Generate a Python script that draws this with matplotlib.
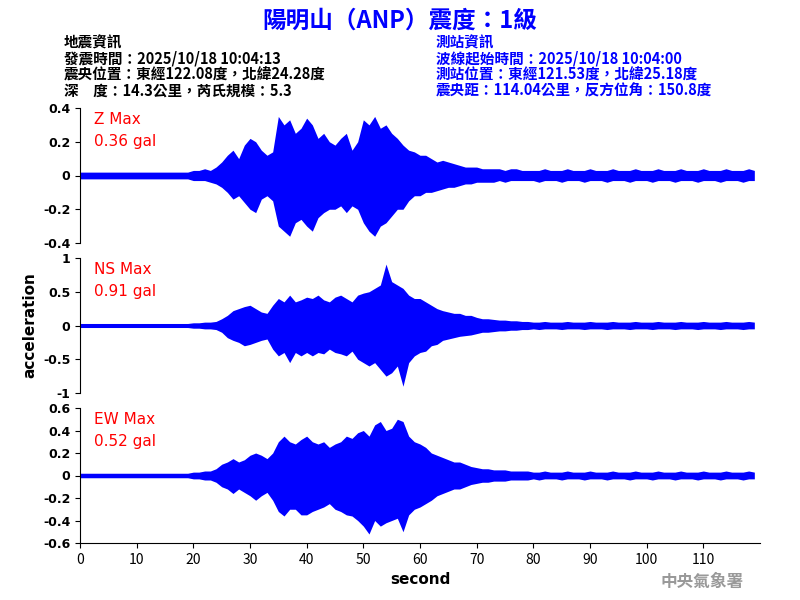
import matplotlib
matplotlib.use("Agg")
import matplotlib.pyplot as plt
import numpy as np

plt.rcParams['font.family'] = ['Noto Sans CJK TC', 'DejaVu Sans']

seconds = np.arange(120)

# per-second envelope (max / min)
z_upper = ([0.02] * 20 + [0.03, 0.03, 0.04, 0.03, 0.05, 0.08, 0.12, 0.15, 0.10, 0.18,
           0.22, 0.20, 0.15, 0.12, 0.14, 0.35, 0.30, 0.33, 0.25, 0.28,
           0.34, 0.30, 0.22, 0.25, 0.20, 0.18, 0.22, 0.25, 0.15, 0.20,
           0.33, 0.30, 0.35, 0.28, 0.30, 0.25, 0.22, 0.18, 0.15, 0.14,
           0.12, 0.12, 0.10, 0.08, 0.09, 0.08, 0.07, 0.06, 0.05, 0.05,
           0.05, 0.04, 0.04, 0.04, 0.04, 0.03, 0.04, 0.04, 0.03, 0.03]
           + [0.03, 0.03, 0.04, 0.03] * 10)
z_lower = ([-0.02] * 20 + [-0.03, -0.03, -0.03, -0.04, -0.05, -0.07, -0.10, -0.14, -0.12, -0.16,
           -0.20, -0.22, -0.14, -0.12, -0.15, -0.30, -0.33, -0.36, -0.28, -0.26,
           -0.30, -0.33, -0.25, -0.22, -0.20, -0.20, -0.18, -0.22, -0.18, -0.20,
           -0.28, -0.33, -0.36, -0.30, -0.28, -0.24, -0.20, -0.20, -0.15, -0.12,
           -0.12, -0.10, -0.10, -0.09, -0.08, -0.07, -0.07, -0.06, -0.05, -0.05,
           -0.04, -0.04, -0.04, -0.04, -0.03, -0.04, -0.03, -0.03, -0.03, -0.03]
           + [-0.03, -0.04, -0.03, -0.03] * 10)

ns_upper = ([0.03] * 20 + [0.04, 0.04, 0.05, 0.05, 0.06, 0.10, 0.15, 0.22, 0.25, 0.28,
            0.30, 0.25, 0.20, 0.18, 0.30, 0.40, 0.35, 0.45, 0.35, 0.38,
            0.42, 0.40, 0.45, 0.38, 0.35, 0.42, 0.45, 0.40, 0.35, 0.45,
            0.48, 0.50, 0.55, 0.60, 0.91, 0.65, 0.60, 0.55, 0.45, 0.40,
            0.40, 0.35, 0.30, 0.25, 0.22, 0.20, 0.18, 0.18, 0.15, 0.15,
            0.12, 0.10, 0.10, 0.09, 0.08, 0.08, 0.07, 0.07, 0.06, 0.06]
            + [0.05, 0.05, 0.06, 0.05] * 10)
ns_lower = ([-0.03] * 20 + [-0.04, -0.04, -0.05, -0.05, -0.06, -0.10, -0.18, -0.22, -0.25, -0.30,
            -0.28, -0.25, -0.22, -0.20, -0.35, -0.45, -0.40, -0.55, -0.40, -0.45,
            -0.40, -0.45, -0.40, -0.42, -0.35, -0.40, -0.42, -0.45, -0.38, -0.50,
            -0.55, -0.60, -0.55, -0.65, -0.75, -0.70, -0.60, -0.90, -0.55, -0.45,
            -0.40, -0.38, -0.30, -0.28, -0.22, -0.20, -0.18, -0.16, -0.15, -0.14,
            -0.12, -0.10, -0.10, -0.09, -0.08, -0.08, -0.07, -0.07, -0.06, -0.06]
            + [-0.05, -0.06, -0.05, -0.05] * 10)

ew_upper = ([0.02] * 20 + [0.03, 0.03, 0.04, 0.04, 0.06, 0.10, 0.12, 0.15, 0.12, 0.14,
            0.18, 0.20, 0.18, 0.15, 0.20, 0.30, 0.35, 0.30, 0.28, 0.32,
            0.35, 0.30, 0.28, 0.30, 0.25, 0.28, 0.30, 0.35, 0.33, 0.38,
            0.40, 0.35, 0.45, 0.48, 0.40, 0.42, 0.50, 0.48, 0.35, 0.30,
            0.28, 0.25, 0.20, 0.18, 0.16, 0.14, 0.12, 0.12, 0.10, 0.08,
            0.07, 0.06, 0.06, 0.05, 0.05, 0.05, 0.04, 0.04, 0.04, 0.04]
            + [0.03, 0.03, 0.04, 0.03] * 10)
ew_lower = ([-0.02] * 20 + [-0.03, -0.03, -0.04, -0.04, -0.06, -0.10, -0.12, -0.16, -0.12, -0.15,
            -0.18, -0.22, -0.18, -0.15, -0.22, -0.32, -0.36, -0.30, -0.30, -0.35,
            -0.35, -0.32, -0.30, -0.28, -0.25, -0.30, -0.32, -0.35, -0.36, -0.40,
            -0.45, -0.52, -0.40, -0.45, -0.42, -0.40, -0.38, -0.50, -0.35, -0.30,
            -0.28, -0.25, -0.22, -0.18, -0.16, -0.14, -0.12, -0.12, -0.10, -0.08,
            -0.07, -0.06, -0.06, -0.05, -0.05, -0.05, -0.04, -0.04, -0.04, -0.04]
            + [-0.03, -0.04, -0.03, -0.03] * 10)

labels = ["Z Max\n0.36 gal", "NS Max\n0.91 gal", "EW Max\n0.52 gal"]
ylims = [0.4, 1.0, 0.6]
yticks = [np.arange(-0.4, 0.41, 0.2), np.arange(-1, 1.01, 0.5), np.arange(-0.6, 0.61, 0.2)]
ytick_labels = [["-0.4", "-0.2", "0", "0.2", "0.4"],
                ["-1", "-0.5", "0", "0.5", "1"],
                ["-0.6", "-0.4", "-0.2", "0", "0.2", "0.4", "0.6"]]
channels = [(z_upper, z_lower), (ns_upper, ns_lower), (ew_upper, ew_lower)]
bottoms = [0.595, 0.345, 0.095]

fig = plt.figure(figsize=(8, 6), dpi=100)
axes = []
for i, ((up, lo), lim, bt) in enumerate(zip(channels, ylims, bottoms)):
    ax = fig.add_axes([0.1, bt, 0.85, 0.225])
    ax.fill_between(seconds, lo, up, color="blue", lw=0)
    ax.set_xlim(0, 120)
    ax.set_ylim(-lim, lim)
    ax.set_yticks(yticks[i])
    ax.set_yticklabels(ytick_labels[i], fontfamily="DejaVu Sans", fontsize=9,
                       fontweight="bold")
    ax.spines["top"].set_visible(False)
    ax.spines["right"].set_visible(False)
    ax.text(0.02, 0.97, labels[i], transform=ax.transAxes, color="red",
            fontsize=11, va="top", ha="left", fontfamily="DejaVu Sans", linespacing=1.6)
    if i < 2:
        ax.spines["bottom"].set_visible(False)
        ax.set_xticks([])
    else:
        ax.set_xticks(np.arange(0, 111, 10))
        ax.tick_params(axis="x", labelsize=10)
        ax.set_xlabel("second", fontsize=11, fontfamily="DejaVu Sans", fontweight="bold")
    axes.append(ax)

axes[1].set_ylabel("acceleration", fontsize=11, fontfamily="DejaVu Sans", fontweight="bold")

fig.text(0.5, 0.965, "陽明山（ANP）震度：1級", ha="center", va="center",
         color="blue", fontsize=17, fontweight="bold")
left_info = "地震資訊\n發震時間：2025/10/18 10:04:13\n震央位置：東經122.08度，北緯24.28度\n深　度：14.3公里，芮氏規模：5.3"
right_info = "測站資訊\n波線起始時間：2025/10/18 10:04:00\n測站位置：東經121.53度，北緯25.18度\n震央距：114.04公里，反方位角：150.8度"
fig.text(0.08, 0.942, left_info, ha="left", va="top", fontsize=10.5,
         color="black", linespacing=1.0, fontweight="bold")
fig.text(0.545, 0.942, right_info, ha="left", va="top", fontsize=10.5,
         color="blue", linespacing=1.0, fontweight="bold")
fig.text(0.93, 0.03, "中央氣象署", ha="right", va="center", fontsize=12,
         color="#999999", fontweight="bold")

fig.savefig("out.png", dpi=100)
